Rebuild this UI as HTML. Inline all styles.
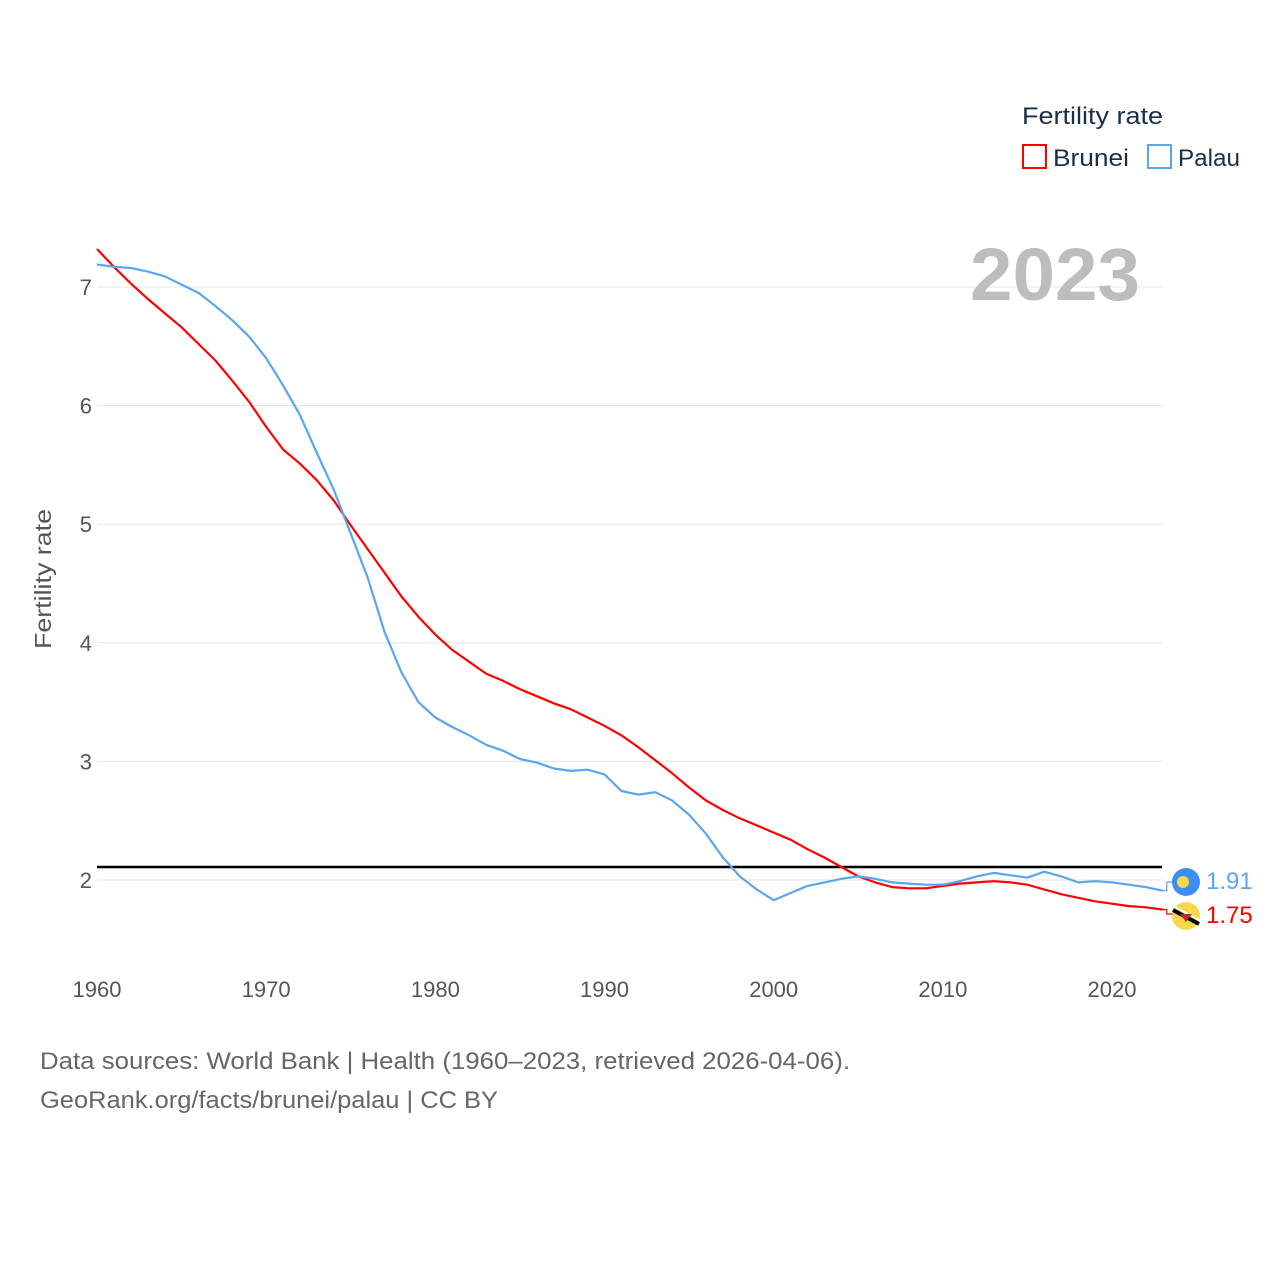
<!DOCTYPE html>
<html><head><meta charset="utf-8"><style>
html,body{margin:0;padding:0;background:#fff;width:1280px;height:1280px;overflow:hidden}
svg text{font-family:"Liberation Sans",sans-serif}
</style></head><body>
<svg id="chart" width="1280" height="1280" viewBox="0 0 1280 1280">
<g id="grid"></g>
<g id="yticks"></g>
<g id="xticks"></g>
<text x="1140" y="300" text-anchor="end" font-size="74" font-weight="bold" fill="#bdbdbd" textLength="170" lengthAdjust="spacingAndGlyphs">2023</text>
<text transform="translate(51,579) rotate(-90)" text-anchor="middle" font-size="23" fill="#555" textLength="140" lengthAdjust="spacingAndGlyphs">Fertility rate</text>
<line id="refline" x1="97" x2="1162" stroke="#000" stroke-width="2.5"/>
<g id="series"></g>
<g>
<text x="1022" y="124" font-size="24" fill="#1a2e4a" textLength="141" lengthAdjust="spacingAndGlyphs">Fertility rate</text>
<g><rect x="1023" y="145" width="23" height="23" fill="none" stroke="#f00" stroke-width="2"/><text x="1053" y="166" font-size="24" fill="#1a2e4a" textLength="76" lengthAdjust="spacingAndGlyphs">Brunei</text></g>
<g><rect x="1148" y="145" width="23" height="23" fill="none" stroke="#5aa5ee" stroke-width="2"/><text x="1178" y="166" font-size="24" fill="#1a2e4a" textLength="62" lengthAdjust="spacingAndGlyphs">Palau</text></g>
</g>
<g>
<circle cx="1186" cy="882" r="14" fill="#3a8ff0"/>
<circle cx="1183" cy="882" r="6" fill="#f7d84a"/>
<circle cx="1186" cy="916" r="14" fill="#f7d84a"/>
<line x1="1173" y1="910" x2="1199" y2="924" stroke="#000" stroke-width="4"/>
<line x1="1173" y1="906" x2="1199" y2="920" stroke="#fff" stroke-width="2"/>
<path d="M1180 914 h12 l-6 8 z" fill="#c0282d"/>
<text x="1206" y="889" font-size="24" fill="#5aa5ee">1.91</text>
<text x="1206" y="923" font-size="24" fill="#f00">1.75</text>
</g>
<text x="40" y="1069" font-size="24" fill="#666" textLength="810" lengthAdjust="spacingAndGlyphs">Data sources: World Bank | Health (1960–2023, retrieved 2026-04-06).</text>
<text x="40" y="1108" font-size="24" fill="#666" textLength="458" lengthAdjust="spacingAndGlyphs">GeoRank.org/facts/brunei/palau | CC BY</text>
</svg>
<script>
const years = [];
for (let y = 1960; y <= 2023; y++) years.push(y);
const brunei = [7.32,7.17,7.03,6.90,6.78,6.66,6.52,6.38,6.21,6.03,5.82,5.63,5.51,5.37,5.20,4.99,4.79,4.59,4.39,4.22,4.07,3.94,3.84,3.74,3.68,3.61,3.55,3.49,3.44,3.37,3.30,3.22,3.12,3.01,2.90,2.78,2.67,2.59,2.52,2.46,2.40,2.34,2.26,2.19,2.11,2.03,1.98,1.94,1.93,1.93,1.95,1.97,1.98,1.99,1.98,1.96,1.92,1.88,1.85,1.82,1.80,1.78,1.77,1.75];
const palau = [7.19,7.17,7.16,7.13,7.09,7.02,6.95,6.84,6.72,6.58,6.40,6.17,5.92,5.60,5.29,4.92,4.55,4.09,3.75,3.50,3.37,3.29,3.22,3.14,3.09,3.02,2.99,2.94,2.92,2.93,2.89,2.75,2.72,2.74,2.67,2.55,2.39,2.19,2.03,1.92,1.83,1.89,1.95,1.98,2.01,2.03,2.01,1.98,1.97,1.96,1.96,1.99,2.03,2.06,2.04,2.02,2.07,2.03,1.98,1.99,1.98,1.96,1.94,1.91];
const yTicks = [2,3,4,5,6,7];
const xTicks = [1960,1970,1980,1990,2000,2010,2020];
const refValue = 2.11;

const X = y => 97 + (y - 1960) * 16.917;
const Y = v => 880 - (v - 2) * 118.6;
const NS = "http://www.w3.org/2000/svg";
const mk = (t, a, p) => { const e = document.createElementNS(NS, t); for (const k in a) e.setAttribute(k, a[k]); p.appendChild(e); return e; };

const grid = document.getElementById('grid'), yt = document.getElementById('yticks'), xt = document.getElementById('xticks');
yTicks.forEach(v => {
  const l = mk('line', {x1: 97, x2: 1162, y1: Y(v), y2: Y(v), stroke: '#e6e6e6', 'stroke-width': 1}, grid);
  
  
  const t = mk('text', {x: 92, y: Y(v) + 8, 'text-anchor': 'end', 'font-size': 22, fill: '#555'}, yt);
  t.textContent = v;
  
  
});
xTicks.forEach(v => {
  const t = mk('text', {x: X(v), y: 997, 'text-anchor': 'middle', 'font-size': 22, fill: '#555'}, xt);
  t.textContent = v;
  
  
});
const rl = document.getElementById('refline');
rl.setAttribute('y1', Y(refValue)); rl.setAttribute('y2', Y(refValue));

const s = document.getElementById('series');
function line(vals, color, name, endY) {
  const d = vals.map((v, i) => (i ? 'L' : 'M') + X(years[i]).toFixed(1) + ' ' + Y(v).toFixed(1)).join(' ');
  const p = mk('path', {d, fill: 'none', stroke: color, 'stroke-width': 2.2, 'stroke-linejoin': 'round'}, s);
  
  
  const lx = X(years[years.length - 1]), ly = Y(vals[vals.length - 1]);
  const c = mk('path', {d: `M${lx} ${ly} h4 V${endY} h6`, fill: 'none', stroke: color, 'stroke-width': 1.2}, s);
  
  
}
line(brunei, '#ff0000', 'brunei-line', 914);
line(palau, '#5aa5ee', 'palau-line', 882);
</script>
</body></html>
